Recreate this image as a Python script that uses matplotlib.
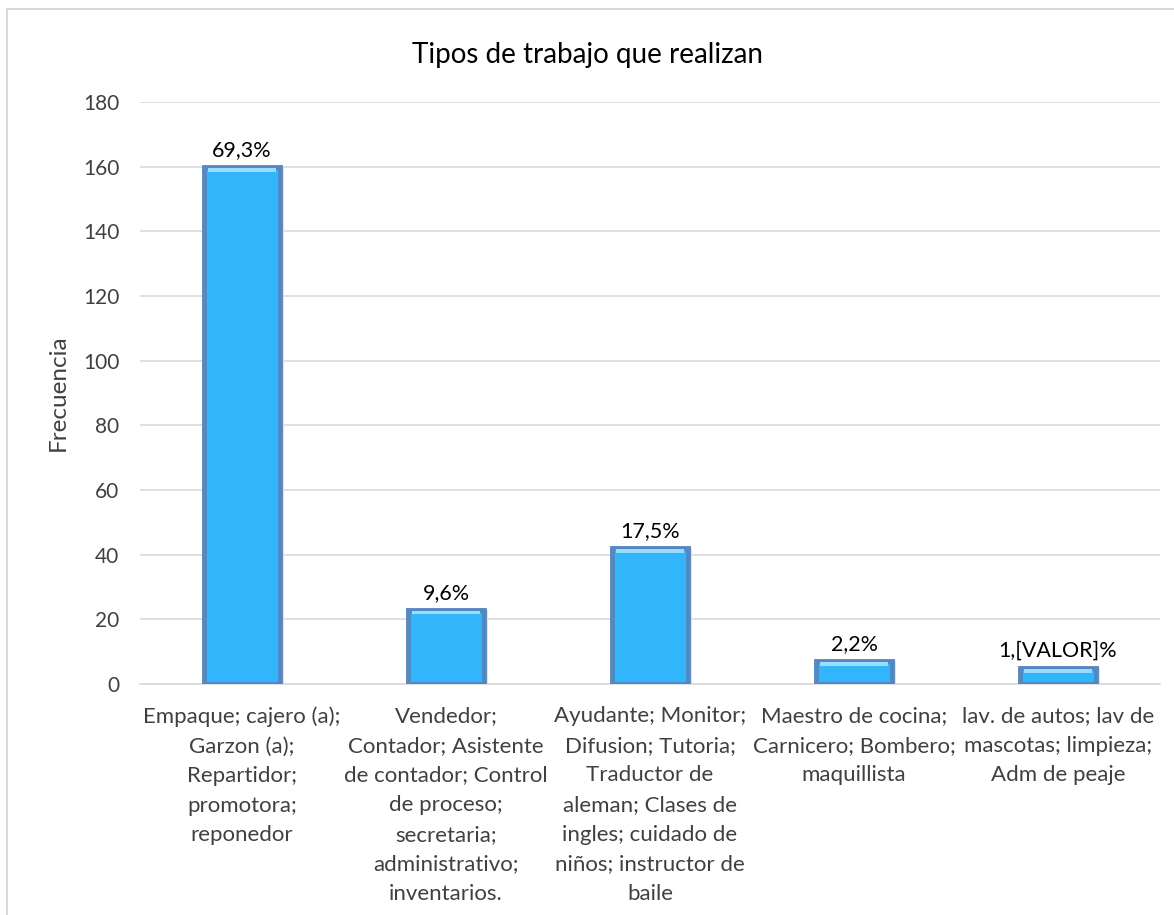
from matplotlib import pyplot as plt
from matplotlib.patches import Rectangle
import numpy as np

categorias = [
    "Empaque; cajero (a);\nGarzon (a);\nRepartidor;\npromotora;\nreponedor",
    "Vendedor;\nContador; Asistente\nde contador; Control\nde proceso;\nsecretaria;\nadministrativo;\ninventarios.",
    "Ayudante; Monitor;\nDifusion; Tutoria;\nTraductor de\naleman; Clases de\ningles; cuidado de\nniños; instructor de\nbaile",
    "Maestro de cocina;\nCarnicero; Bombero;\nmaquillista",
    "lav. de autos; lav de\nmascotas; limpieza;\nAdm de peaje",
]
frecuencias = [160, 23, 42, 7, 5]
etiquetas = ["69,3%", "9,6%", "17,5%", "2,2%", "1,[VALOR]%"]
y_ticks = [0, 20, 40, 60, 80, 100, 120, 140, 160, 180]

plt.rcParams['font.family'] = ['Lato', 'DejaVu Sans']

fig = plt.figure(figsize=(11.74, 9.15), dpi=100)
ax = fig.add_axes([140 / 1174, 1 - 684 / 915, 1020 / 1174, 582 / 915])

# marco del grafico
fig.patches.append(Rectangle((7 / 1174, -0.1), 1.2, 1 - 9 / 915 + 0.1,
                             transform=fig.transFigure, fill=False,
                             edgecolor='#d9d9d9', linewidth=1.5))

x = np.arange(len(frecuencias))
ancho = 0.37

# sombra
ax.bar(x + 0.012, frecuencias, ancho + 0.02, color='#e3e3e3', zorder=2)
# barra principal
ax.bar(x, frecuencias, ancho, color='#31b6fc', edgecolor='#5588c0',
       linewidth=3.5, zorder=3)
# brillo superior (bisel)
ax.bar(x, [1.2] * len(frecuencias), ancho * 0.9,
       bottom=[v - 1.5 for v in frecuencias], color='#9adcfb', zorder=4)

for xi, v, t in zip(x, frecuencias, etiquetas):
    ax.annotate(t, (xi, v), xytext=(0, 5), textcoords='offset points',
                ha='center', va='bottom', fontsize=15.5, color='#000000')

ax.set_xlim(-0.5, len(frecuencias) - 0.5)
ax.set_ylim(0, 180)
ax.set_yticks(y_ticks)
ax.set_xticks(x)
ax.set_xticklabels(categorias, fontsize=16, color='#404040',
                   linespacing=1.6)
ax.tick_params(axis='y', labelsize=15, labelcolor='#404040', length=0,
               pad=15)
ax.tick_params(axis='x', length=0, pad=16)
ax.grid(axis='y', color='#d9d9d9', linewidth=1.2, zorder=0)
ax.set_axisbelow(True)
for s in ['top', 'right', 'left']:
    ax.spines[s].set_visible(False)
ax.spines['bottom'].set_color('#d9d9d9')
ax.spines['bottom'].set_linewidth(1.2)

ax.set_ylabel("Frecuencia", fontsize=17.5, color='#404040', labelpad=10)
fig.text(587 / 1174, 1 - 55 / 915, "Tipos de trabajo que realizan",
         ha='center', va='center', fontsize=20, color='#000000')

plt.savefig("out.png", dpi=100)
